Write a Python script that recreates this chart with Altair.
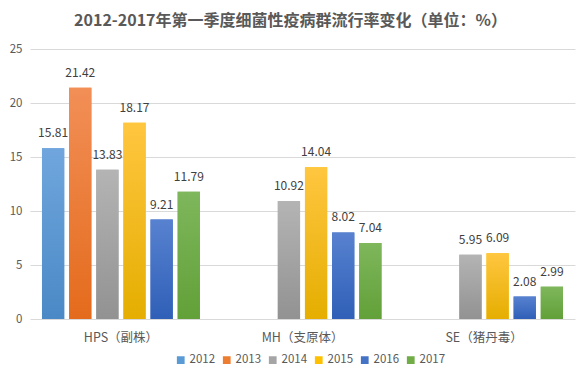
import altair as alt
import pandas as pd

categories = ["HPS（副株）", "MH（支原体）", "SE（猪丹毒）"]
years = ["2012", "2013", "2014", "2015", "2016", "2017"]
values = {
    "2012": [15.81, None, None],
    "2013": [21.42, None, None],
    "2014": [13.83, 10.92, 5.95],
    "2015": [18.17, 14.04, 6.09],
    "2016": [9.21, 8.02, 2.08],
    "2017": [11.79, 7.04, 2.99],
}
flat_colors = ["#5B9BD5", "#ED7D31", "#A5A5A5", "#FFC000", "#4472C4", "#70AD47"]
grad_top = ["#70A6DD", "#F28F57", "#B4B4B4", "#FFC640", "#5882D0", "#7EB75C"]
grad_bot = ["#4A89C6", "#E46B1C", "#929292", "#E5AE00", "#2F5FB7", "#62A038"]

rows = []
for y in years:
    for c, v in zip(categories, values[y]):
        if v is not None:
            rows.append({"cat": c, "year": y, "val": v, "lab": f"{v:.2f}"})
df = pd.DataFrame(rows)

FONT = "Noto Sans CJK SC"

x_enc = alt.X("cat:N", sort=categories, title=None,
              scale=alt.Scale(domain=categories, paddingInner=0.13, paddingOuter=0.066),
              axis=alt.Axis(labelAngle=0, domain=False, ticks=False, grid=False, labelPadding=12,
                            labelFontSize=12.5, labelColor="#595959", labelFont=FONT))
xo_enc = alt.XOffset("year:N", scale=alt.Scale(domain=years, paddingInner=0.18, paddingOuter=0))
y_enc = alt.Y("val:Q", title=None,
              scale=alt.Scale(domain=[0, 25]),
              axis=alt.Axis(values=[0, 5, 10, 15, 20, 25], domain=False, ticks=False, grid=True,
                            labelPadding=8, labelFontSize=11.5, labelColor="#595959",
                            labelFont=FONT, gridColor="#D9D9D9", gridWidth=1))

base = alt.Chart(df)

legend_bars = base.mark_bar().encode(
    x=x_enc, xOffset=xo_enc, y=y_enc,
    color=alt.Color("year:N", scale=alt.Scale(domain=years, range=flat_colors),
                    legend=alt.Legend(title=None, orient="none", direction="horizontal",
                                      legendX=145, legendY=305, symbolType="square",
                                      symbolSize=60, symbolStrokeWidth=0,
                                      labelFontSize=11.5, labelColor="#595959",
                                      labelFont=FONT, columnPadding=5, labelOffset=3)),
)

layers = [legend_bars]
for i, y in enumerate(years):
    grad = alt.Gradient(gradient="linear",
                        stops=[alt.GradientStop(color=grad_top[i], offset=0),
                               alt.GradientStop(color=grad_bot[i], offset=1)],
                        x1=0, x2=0, y1=0, y2=1)
    layers.append(
        base.transform_filter(alt.datum.year == y).mark_bar(fill=grad).encode(
            x=x_enc, xOffset=xo_enc, y=y_enc)
    )

labels = base.mark_text(baseline="bottom", dy=-8, fontSize=12, color="#404040", font=FONT).encode(
    x=x_enc, xOffset=xo_enc, y=y_enc, text="lab:N")
layers.append(labels)

chart = alt.layer(*layers).properties(
    width=545, height=270,
    autosize=alt.AutoSizeParams(type="none"),
    padding={"left": 22, "top": 41, "right": 3, "bottom": 55},
    title=alt.TitleParams("2012-2017年第一季度细菌性疫病群流行率变化（单位：%）",
                          fontSize=16, fontWeight="bold", color="#595959", font=FONT,
                          anchor="middle", offset=14, dx=-12),
).configure_view(stroke=None)

chart.save("out.html", embed_options={"renderer": "svg", "actions": False})
